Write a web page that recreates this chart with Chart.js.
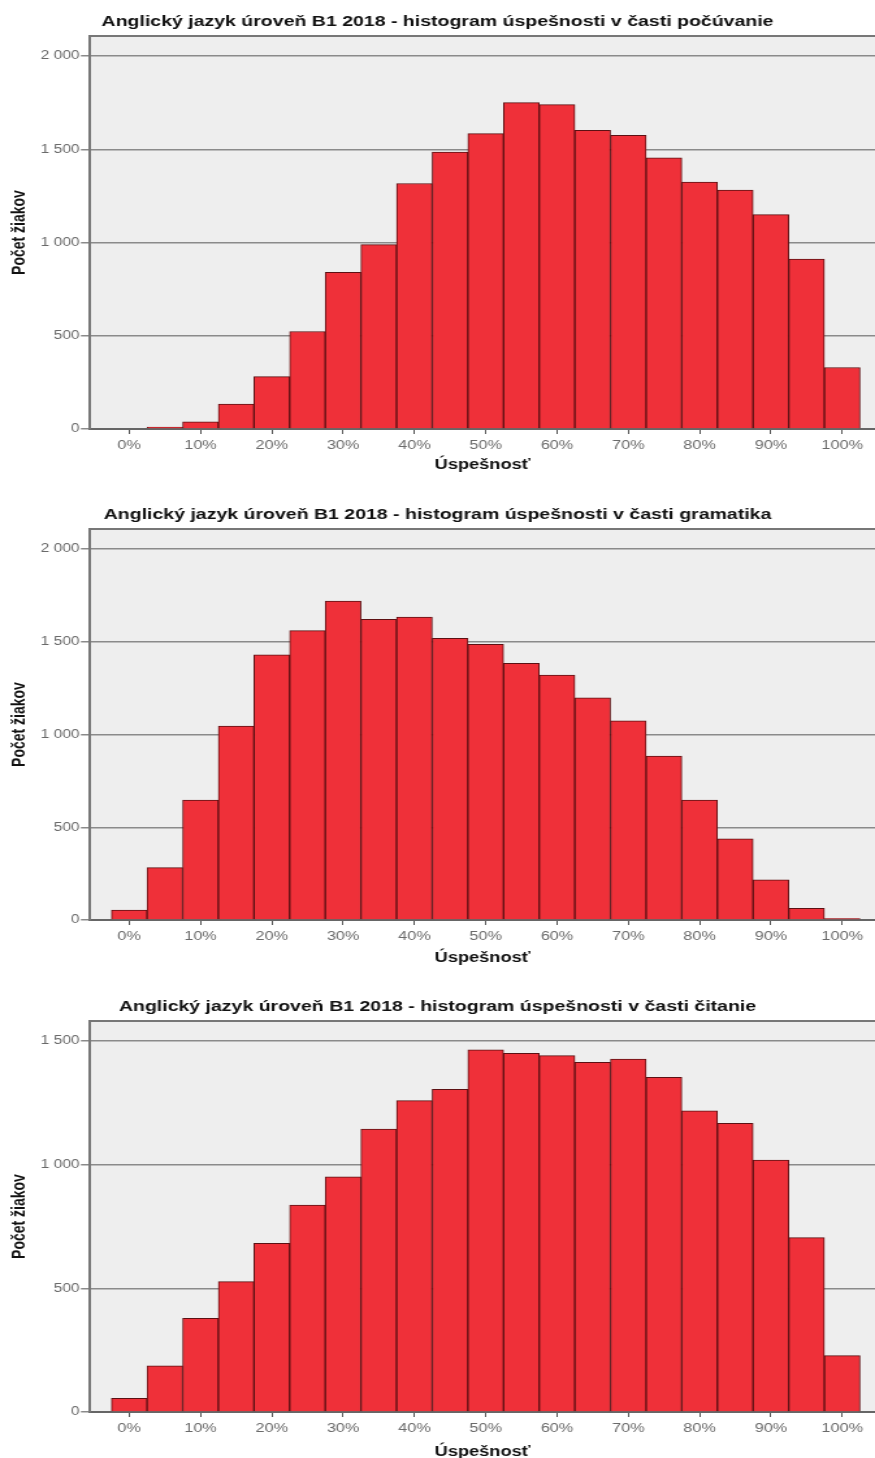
<!DOCTYPE html>
<html>
<head>
<meta charset="utf-8">
<script src="https://cdn.jsdelivr.net/npm/chart.js@4"></script>
<style>
  body { margin: 0; background: #fff; width: 875px; height: 1458px; position: relative; overflow: hidden; }
  .box { position: absolute; left: 0; transform-origin: 0 0; }
  canvas { display: block; }
</style>
</head>
<body>
<div class="box" id="boxListening" style="top:0px"><canvas id="chartListening" width="673" height="480"></canvas></div>
<div class="box" id="boxGrammar" style="top:493px"><canvas id="chartGrammar" width="673" height="480"></canvas></div>
<div class="box" id="boxReading" style="top:985px"><canvas id="chartReading" width="673" height="476"></canvas></div>
<script>
// --- data (bins of 5 %) ---
const binCenters = [0, 5, 10, 15, 20, 25, 30, 35, 40, 45, 50, 55, 60, 65, 70, 75, 80, 85, 90, 95, 100];
const listeningCounts = [0, 10, 38, 133, 281, 523, 840, 989, 1317, 1486, 1584, 1751, 1740, 1602, 1575, 1455, 1324, 1281, 1150, 912, 330];
const grammarCounts = [54, 282, 647, 1046, 1429, 1560, 1720, 1621, 1633, 1519, 1486, 1384, 1321, 1198, 1074, 884, 647, 437, 216, 63, 8];
const readingCounts = [55, 187, 379, 527, 682, 837, 951, 1144, 1259, 1305, 1464, 1450, 1441, 1414, 1427, 1353, 1218, 1167, 1019, 705, 228];

const xTicks = [0, 10, 20, 30, 40, 50, 60, 70, 80, 90, 100];
const yTicksBig = [0, 500, 1000, 1500, 2000];
const yTicksSmall = [0, 500, 1000, 1500];

const titleListening = 'Anglický jazyk úroveň B1 2018 - histogram úspešnosti v časti počúvanie';
const titleGrammar = 'Anglický jazyk úroveň B1 2018 - histogram úspešnosti v časti gramatika';
const titleReading = 'Anglický jazyk úroveň B1 2018 - histogram úspešnosti v časti čitanie';
const xTitle = 'Úspešnosť';
const yTitle = 'Počet žiakov';

const FONT = 'Arial, "Liberation Sans", sans-serif';

// the original export is stretched sideways, so draw narrower and widen it
const PAGE_W = 875;
const CANVAS_W = 673;
const stretch = PAGE_W / CANVAS_W;
document.querySelectorAll('.box').forEach(b => { b.style.transform = 'scaleX(' + stretch + ')'; });

// plot background + top frame line
const plotFrame = {
    id: 'plotFrame',
    beforeDraw(chart) {
        const a = chart.chartArea, ctx = chart.ctx;
        ctx.save();
        ctx.fillStyle = '#eeeeee';
        ctx.fillRect(a.left, a.top, a.right - a.left, a.bottom - a.top);
        ctx.restore();
    },
    afterDraw(chart) {
        const a = chart.chartArea, ctx = chart.ctx;
        ctx.save();
        ctx.strokeStyle = '#777777';
        ctx.lineWidth = 2;
        ctx.beginPath();
        ctx.moveTo(a.left, a.top);
        ctx.lineTo(a.right, a.top);
        ctx.stroke();
        ctx.restore();
    }
};

function fmtThousands(v) {
    if (v < 1000) return String(v);
    return Math.floor(v / 1000) + ' ' + String(v % 1000).padStart(3, '0');
}

function makeHistogram(id, title, counts, yMax, yTicks, xAxisHeight, xTitlePad) {
    const ctx = document.getElementById(id);
    return new Chart(ctx, {
        type: 'bar',
        data: {
            datasets: [{
                data: binCenters.map((x, i) => ({ x: x, y: counts[i] })),
                backgroundColor: '#ef3039',
                borderColor: '#5c1013',
                borderWidth: 1,
                barPercentage: 1,
                categoryPercentage: 1
            }]
        },
        options: {
            responsive: false,
            animation: false,
            events: [],
            layout: { padding: 0 },
            plugins: {
                legend: { display: false },
                tooltip: { enabled: false },
                title: {
                    display: true,
                    text: title,
                    color: '#111',
                    font: { family: FONT, size: 15, weight: 'bold' },
                    padding: { top: 13, bottom: 5 }
                }
            },
            scales: {
                x: {
                    type: 'linear',
                    min: -5.5,
                    max: 104.6,
                    offset: false,
                    afterBuildTicks: s => { s.ticks = xTicks.map(v => ({ value: v })); },
                    afterFit: s => { s.height = xAxisHeight; },
                    ticks: {
                        color: '#6a6a6a',
                        font: { family: FONT, size: 12.5 },
                        padding: 4,
                        maxRotation: 0,
                        callback: v => v + '%'
                    },
                    grid: { drawOnChartArea: false, drawTicks: true, tickLength: 5, color: '#555', offset: false },
                    border: { color: '#666', width: 2 },
                    title: {
                        display: true,
                        text: xTitle,
                        color: '#111',
                        font: { family: FONT, size: 14, weight: 'bold' },
                        padding: { top: 0, bottom: xTitlePad }
                    }
                },
                y: {
                    min: 0,
                    max: yMax,
                    afterBuildTicks: s => { s.ticks = yTicks.map(v => ({ value: v })); },
                    afterFit: s => { s.width = 90 / stretch; },
                    ticks: {
                        color: '#6a6a6a',
                        font: { family: FONT, size: 12 },
                        padding: 1,
                        callback: v => fmtThousands(v)
                    },
                    grid: { color: '#8a8a8a', lineWidth: 1.5, tickLength: 7, drawTicks: true },
                    border: { color: '#777', width: 2 },
                    title: {
                        display: true,
                        text: yTitle,
                        color: '#111',
                        font: { family: FONT, size: 14, weight: 'bold' },
                        padding: { top: 7, bottom: 0 }
                    }
                }
            }
        },
        plugins: [plotFrame]
    });
}

makeHistogram('chartListening', titleListening, listeningCounts, 2108, yTicksBig, 51, 6.6);
makeHistogram('chartGrammar', titleGrammar, grammarCounts, 2108, yTicksBig, 53, 6.6);
makeHistogram('chartReading', titleReading, readingCounts, 1581, yTicksSmall, 49, 0.6);
</script>
</body>
</html>
